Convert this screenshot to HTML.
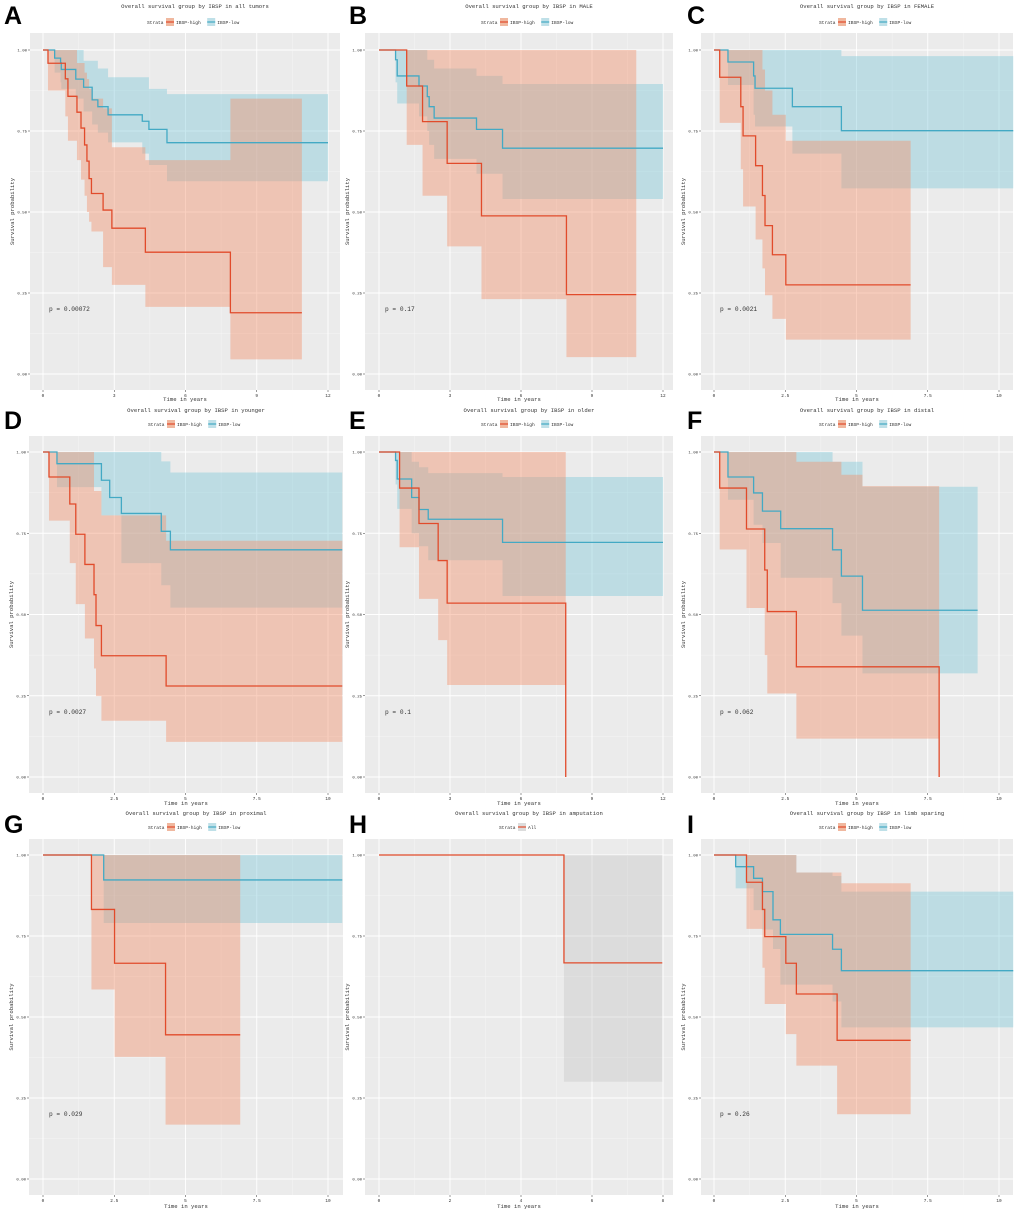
<!DOCTYPE html>
<html><head><meta charset="utf-8">
<style>
html,body{margin:0;padding:0;background:#fff;}
svg{display:block;}
text{font-family:"Liberation Mono",monospace;fill:#333;}
.letter{font-family:"Liberation Sans",sans-serif;font-weight:bold;font-size:25px;fill:#000;}
</style></head>
<body>
<svg id="fig" width="1020" height="1217" viewBox="0 0 1020 1217" xmlns="http://www.w3.org/2000/svg"></svg>
<script>
// ---------- Panel A: all tumors ----------
const aHighT=[0.21,0.94,1.05,1.43,1.6,1.75,1.85,1.94,2.04,2.53,2.9,4.31,7.89];
const aHighS=[.959,.911,.857,.808,.759,.707,.657,.603,.557,.506,.45,.376,.189];
const aHighUp=[1,1,1,.96,.96,.93,.91,.88,.85,.82,.70,.66,.85];
const aHighLo=[.875,.795,.72,.66,.60,.55,.50,.47,.44,.33,.275,.207,.045];
const aLowT=[0.49,0.74,0.77,1.38,1.71,2.07,2.31,2.74,4.18,4.46,5.22];
const aLowS=[.975,.96,.94,.91,.885,.846,.825,.80,.78,.755,.714];
const aLowUp=[1,1,1,1,.967,.967,.943,.916,.916,.88,.864];
const aLowLo=[.93,.90,.88,.85,.81,.77,.745,.715,.68,.645,.595];
// ---------- Panel B: male ----------
const bHighT=[1.17,1.84,2.88,4.33,7.92];
const bHighS=[.889,.779,.65,.488,.245];
const bHighUp=[1,1,1,1,1];
const bHighLo=[.707,.55,.394,.231,.052];
const bLowT=[.70,.77,1.69,2.04,2.12,2.33,4.12,5.22];
const bLowS=[.97,.92,.889,.856,.825,.79,.755,.697];
const bLowUp=[1,1,1,.97,.97,.943,.92,.895];
const bLowLo=[.90,.835,.795,.75,.707,.664,.618,.54];
// ---------- Panel C: female ----------
const cHighT=[.2,.94,1.02,1.46,1.7,1.79,2.05,2.52];
const cHighS=[.916,.825,.735,.643,.551,.458,.368,.275];
const cHighUp=[1,1,1,1,.94,.875,.80,.72];
const cHighLo=[.775,.632,.517,.415,.326,.243,.17,.106];
const cLowT=[.49,1.39,1.44,2.75,4.47];
const cLowS=[.963,.92,.882,.825,.751];
const cLowUp=[1,1,1,1,.981];
const cLowLo=[.892,.80,.764,.68,.573];
// ---------- Panel D: younger ----------
const dHighT=[.21,.94,1.15,1.47,1.79,1.86,2.05,4.32];
const dHighS=[.923,.84,.747,.654,.561,.466,.373,.28];
const dHighUp=[1,1,1,1,.88,.88,.805,.727];
const dHighLo=[.789,.658,.532,.426,.334,.249,.173,.108];
const dLowT=[.49,2.05,2.34,2.75,4.15,4.47];
const dLowS=[.964,.913,.86,.811,.756,.699];
const dLowUp=[1,1,1,1,.971,.937];
const dLowLo=[.892,.805,.805,.658,.59,.521];
// ---------- Panel E: older ----------
const eHighT=[.87,1.69,2.5,2.88,7.89];
const eHighS=[.889,.78,.666,.535,0];
const eHighUp=[1,1,1,1,1];
const eHighLo=[.707,.548,.421,.283,.283];
const eLowT=[.70,.77,1.38,1.69,2.08,5.22];
const eLowS=[.974,.917,.86,.823,.793,.722];
const eLowUp=[1,1,.97,.953,.935,.923];
const eLowLo=[.90,.825,.75,.71,.667,.557];
// ---------- Panel F: distal ----------
const fHighT=[.2,1.14,1.78,1.87,2.89,7.9];
const fHighS=[.889,.763,.637,.509,.339,0];
const fHighBandT=[.2,1.14,1.78,1.87,2.89,4.47,5.21,7.9];
const fHighUp=[1,1,1,1,.97,.93,.895,.895];
const fHighLo=[.70,.52,.375,.257,.118,.118,.118,.118];
const fLowT=[.49,1.39,1.7,2.34,4.16,4.47,5.21];
const fLowS=[.923,.874,.818,.764,.699,.618,.513];
const fLowUp=[1,1,1,1,.97,.97,.893];
const fLowLo=[.853,.776,.72,.613,.535,.435,.319];
// ---------- Panel G: proximal ----------
const gHighT=[1.7,2.51,4.3];
const gHighS=[.832,.666,.445];
const gHighUp=[1,1,1];
const gHighLo=[.585,.377,.168];
const gLowT=[2.13];
const gLowS=[.923];
const gLowUp=[1];
const gLowLo=[.79];
// ---------- Panel H: amputation ----------
const hAllT=[5.21];
const hAllS=[.667];
const hAllUp=[1];
const hAllLo=[.30];
// ---------- Panel I: limb sparing ----------
const iHighT=[1.14,1.7,1.78,2.52,2.89,4.32];
const iHighS=[.916,.832,.748,.666,.571,.428];
const iHighBandT=[1.14,1.7,1.78,2.52,2.89,4.16,4.32,4.47];
const iHighUp=[1,1,1,1,.946,.946,.946,.913];
const iHighLo=[.772,.652,.54,.447,.35,.35,.2,.2];
const iLowT=[.76,1.39,1.7,2.07,2.33,4.16,4.47];
const iLowS=[.964,.928,.887,.80,.755,.709,.643];
const iLowBandT=[.76,1.39,1.7,2.07,2.33,2.89,4.16,4.47];
const iLowUp=[1,1,1,1,1,.946,.935,.887];
const iLowLo=[.897,.83,.77,.71,.6,.6,.548,.468];
// tick labels
const yTickVals=[0,0.25,0.5,0.75,1];
const yTickLabels=["0.00","0.25","0.50","0.75","1.00"];
const xTicks12=[0,3,6,9,12];
const xTicks10=[0,2.5,5,7.5,10];
const xTicks8=[0,2,4,6,8];

const NS="http://www.w3.org/2000/svg";
const svg=document.getElementById('fig');
function mk(tag,attrs,parent){const e=document.createElementNS(NS,tag);for(const k in attrs)e.setAttribute(k,attrs[k]);(parent||svg).appendChild(e);return e;}

const RED="#e14b2b", BLUE="#43a9c4";
const rows=[{r:[33,390],y1:50,y0:374,title:8,leg:22,xl:401},
            {r:[436,793],y1:452,y0:777,title:412,leg:424,xl:805},
            {r:[839,1195],y1:855,y0:1179,title:815,leg:827,xl:1208}];
const cols=[{r:[30,340],x0:43,x1:328,lx:4},{r:[365,673],x0:379,x1:663,lx:349},{r:[701,1013],x0:714,x1:999,lx:687}];

const panels=[
 {id:'a',row:0,col:0,L:'A',xmax:12,ticks:xTicks12,title:'Overall survival group by IBSP in all tumors',p:'p = 0.00072',
  groups:[{k:'low',t:aLowT,s:aLowS,bt:aLowT,up:aLowUp,lo:aLowLo,end:12},{k:'high',t:aHighT,s:aHighS,bt:aHighT,up:aHighUp,lo:aHighLo,end:10.9}]},
 {id:'b',row:0,col:1,L:'B',xmax:12,ticks:xTicks12,title:'Overall survival group by IBSP in MALE',p:'p = 0.17',
  groups:[{k:'low',t:bLowT,s:bLowS,bt:bLowT,up:bLowUp,lo:bLowLo,end:12},{k:'high',t:bHighT,s:bHighS,bt:bHighT,up:bHighUp,lo:bHighLo,end:10.87}]},
 {id:'c',row:0,col:2,L:'C',xmax:10,ticks:xTicks10,title:'Overall survival group by IBSP in FEMALE',p:'p = 0.0021',
  groups:[{k:'low',t:cLowT,s:cLowS,bt:cLowT,up:cLowUp,lo:cLowLo,end:10.5},{k:'high',t:cHighT,s:cHighS,bt:cHighT,up:cHighUp,lo:cHighLo,end:6.9}]},
 {id:'d',row:1,col:0,L:'D',xmax:10,ticks:xTicks10,title:'Overall survival group by IBSP in younger',p:'p = 0.0027',
  groups:[{k:'low',t:dLowT,s:dLowS,bt:dLowT,up:dLowUp,lo:dLowLo,end:10.5},{k:'high',t:dHighT,s:dHighS,bt:dHighT,up:dHighUp,lo:dHighLo,end:10.5}]},
 {id:'e',row:1,col:1,L:'E',xmax:12,ticks:xTicks12,title:'Overall survival group by IBSP in older',p:'p = 0.1',
  groups:[{k:'low',t:eLowT,s:eLowS,bt:eLowT,up:eLowUp,lo:eLowLo,end:12},{k:'high',t:eHighT,s:eHighS,bt:eHighT,up:eHighUp,lo:eHighLo,end:7.89}]},
 {id:'f',row:1,col:2,L:'F',xmax:10,ticks:xTicks10,title:'Overall survival group by IBSP in distal',p:'p = 0.062',
  groups:[{k:'low',t:fLowT,s:fLowS,bt:fLowT,up:fLowUp,lo:fLowLo,end:9.25},{k:'high',t:fHighT,s:fHighS,bt:fHighBandT,up:fHighUp,lo:fHighLo,end:7.9}]},
 {id:'g',row:2,col:0,L:'G',xmax:10,ticks:xTicks10,title:'Overall survival group by IBSP in proximal',p:'p = 0.029',
  groups:[{k:'low',t:gLowT,s:gLowS,bt:gLowT,up:gLowUp,lo:gLowLo,end:10.5},{k:'high',t:gHighT,s:gHighS,bt:gHighT,up:gHighUp,lo:gHighLo,end:6.92}]},
 {id:'h',row:2,col:1,L:'H',xmax:8,ticks:xTicks8,title:'Overall survival group by IBSP in amputation',p:null,
  groups:[{k:'all',t:hAllT,s:hAllS,bt:hAllT,up:hAllUp,lo:hAllLo,end:7.98}]},
 {id:'i',row:2,col:2,L:'I',xmax:10,ticks:xTicks10,title:'Overall survival group by IBSP in limb sparing',p:'p = 0.26',
  groups:[{k:'low',t:iLowT,s:iLowS,bt:iLowBandT,up:iLowUp,lo:iLowLo,end:10.5},{k:'high',t:iHighT,s:iHighS,bt:iHighBandT,up:iHighUp,lo:iHighLo,end:6.9}]}
];

panels.forEach(P=>{
  const R=rows[P.row], C=cols[P.col];
  let rx=C.r, x0=C.x0, x1=C.x1;
  if(P.col===0 && P.row>0){rx=[29,343];}
  const sx=v=>x0+(v/P.xmax)*(x1-x0);
  const sy=v=>R.y0-v*(R.y0-R.y1);
  const g=mk('g',{});
  
  
  const cx=(rx[0]+rx[1])/2;
  // letter
  const lt=mk('text',{x:C.lx,y:[24,429,833][P.row],class:'letter'},g);lt.textContent=P.L;
  
  
  // title
  const tt=mk('text',{x:cx+10,y:R.title,'font-size':5.6,'text-anchor':'middle'},g);tt.textContent=P.title;
  
  
  // legend
  const lg=mk('g',{},g);
  
  
  const entries=P.groups.length===1?[{c:RED,f:'#dcdcdc',l:'All'}]:[{c:RED,f:'#f0b89f',l:'IBSP-high'},{c:BLUE,f:'#bfe0e8',l:'IBSP-low'}];
  let lx=cx-(entries.length===1?20:38);
  const st=mk('text',{x:lx,y:R.leg+2,'font-size':4.6},lg);st.textContent='Strata';
  lx+=19;
  entries.forEach(en=>{
    const eg=mk('g',{},lg);
    
    
    mk('rect',{x:lx,y:R.leg-4,width:8,height:8,fill:en.f},eg);
    mk('line',{x1:lx,x2:lx+8,y1:R.leg,y2:R.leg,stroke:en.c,'stroke-width':1.2},eg);
    const et=mk('text',{x:lx+10,y:R.leg+2,'font-size':4.6},eg);et.textContent=en.l;
    lx+=10+en.l.length*2.8+6;
  });
  // plot bg
  const bg=mk('rect',{x:rx[0],y:R.r[0],width:rx[1]-rx[0],height:R.r[1]-R.r[0],fill:'#ebebeb'},g);
  
  
  const grid=mk('g',{},g);
  
  
  for(let i=0;i<yTickVals.length;i++){
    mk('line',{x1:rx[0],x2:rx[1],y1:sy(yTickVals[i]),y2:sy(yTickVals[i]),stroke:'#fff','stroke-width':0.9},grid);
    if(i<yTickVals.length-1){const m=(yTickVals[i]+yTickVals[i+1])/2;mk('line',{x1:rx[0],x2:rx[1],y1:sy(m),y2:sy(m),stroke:'#f6f6f6','stroke-width':0.5},grid);}
  }
  for(let i=0;i<P.ticks.length;i++){
    mk('line',{y1:R.r[0],y2:R.r[1],x1:sx(P.ticks[i]),x2:sx(P.ticks[i]),stroke:'#fff','stroke-width':0.9},grid);
    if(i<P.ticks.length-1){const m=(P.ticks[i]+P.ticks[i+1])/2;mk('line',{y1:R.r[0],y2:R.r[1],x1:sx(m),x2:sx(m),stroke:'#f6f6f6','stroke-width':0.5},grid);}
  }
  // y ticks
  const ya=mk('g',{},g);
  
  
  yTickVals.forEach((v,i)=>{
    const t=mk('text',{x:rx[0]-3,y:sy(v)+1.5,'font-size':4,'text-anchor':'end'},ya);t.textContent=yTickLabels[i];
    mk('line',{x1:rx[0]-2,x2:rx[0],y1:sy(v),y2:sy(v),stroke:'#333','stroke-width':0.5},ya);
  });
  const yt=mk('text',{x:0,y:0,'font-size':5.6,'text-anchor':'middle',transform:`translate(${rx[0]-16},${(R.r[0]+R.r[1])/2}) rotate(-90)`},ya);
  yt.textContent='Survival probability';
  
  
  // x ticks
  const xa=mk('g',{},g);
  
  
  P.ticks.forEach(v=>{
    const t=mk('text',{x:sx(v),y:R.r[1]+7,'font-size':4.4,'text-anchor':'middle'},xa);t.textContent=String(v);
    mk('line',{x1:sx(v),x2:sx(v),y1:R.r[1],y2:R.r[1]+2,stroke:'#333','stroke-width':0.5},xa);
  });
  const xt=mk('text',{x:cx,y:R.xl,'font-size':5.6,'text-anchor':'middle'},xa);xt.textContent='Time in years';
  
  
  // bands
  P.groups.forEach(G=>{
    const fill=G.k==='high'?'#f3906a':(G.k==='low'?'#7ec8d8':'#bbbbbb');
    const op=G.k==='all'?0.3:0.42;
    let up=[],lo=[];
    for(let i=0;i<G.bt.length;i++){
      const ta=G.bt[i], tb=(i+1<G.bt.length)?G.bt[i+1]:G.end;
      up.push([sx(ta),sy(G.up[i])],[sx(tb),sy(G.up[i])]);
      lo.push([sx(ta),sy(G.lo[i])],[sx(tb),sy(G.lo[i])]);
    }
    const pts=up.concat(lo.reverse()).map(p=>p.join(',')).join(' ');
    const b=mk('polygon',{points:pts,fill:fill,'fill-opacity':op},g);
    
    
  });
  // lines
  P.groups.forEach(G=>{
    const col=G.k==='low'?BLUE:RED;
    let d=`M${sx(0)},${sy(1)}`;
    for(let i=0;i<G.t.length;i++){d+=` H${sx(G.t[i])} V${sy(G.s[i])}`;}
    d+=` H${sx(G.end)}`;
    const l=mk('path',{d:d,fill:'none',stroke:col,'stroke-width':1.3},g);
    
    
  });
  if(P.p){
    const pt=mk('text',{x:sx(0)+6,y:sy(0.2)+2,'font-size':6.2},g);pt.textContent=P.p;
    
    
  }
});
</script>
</body></html>
